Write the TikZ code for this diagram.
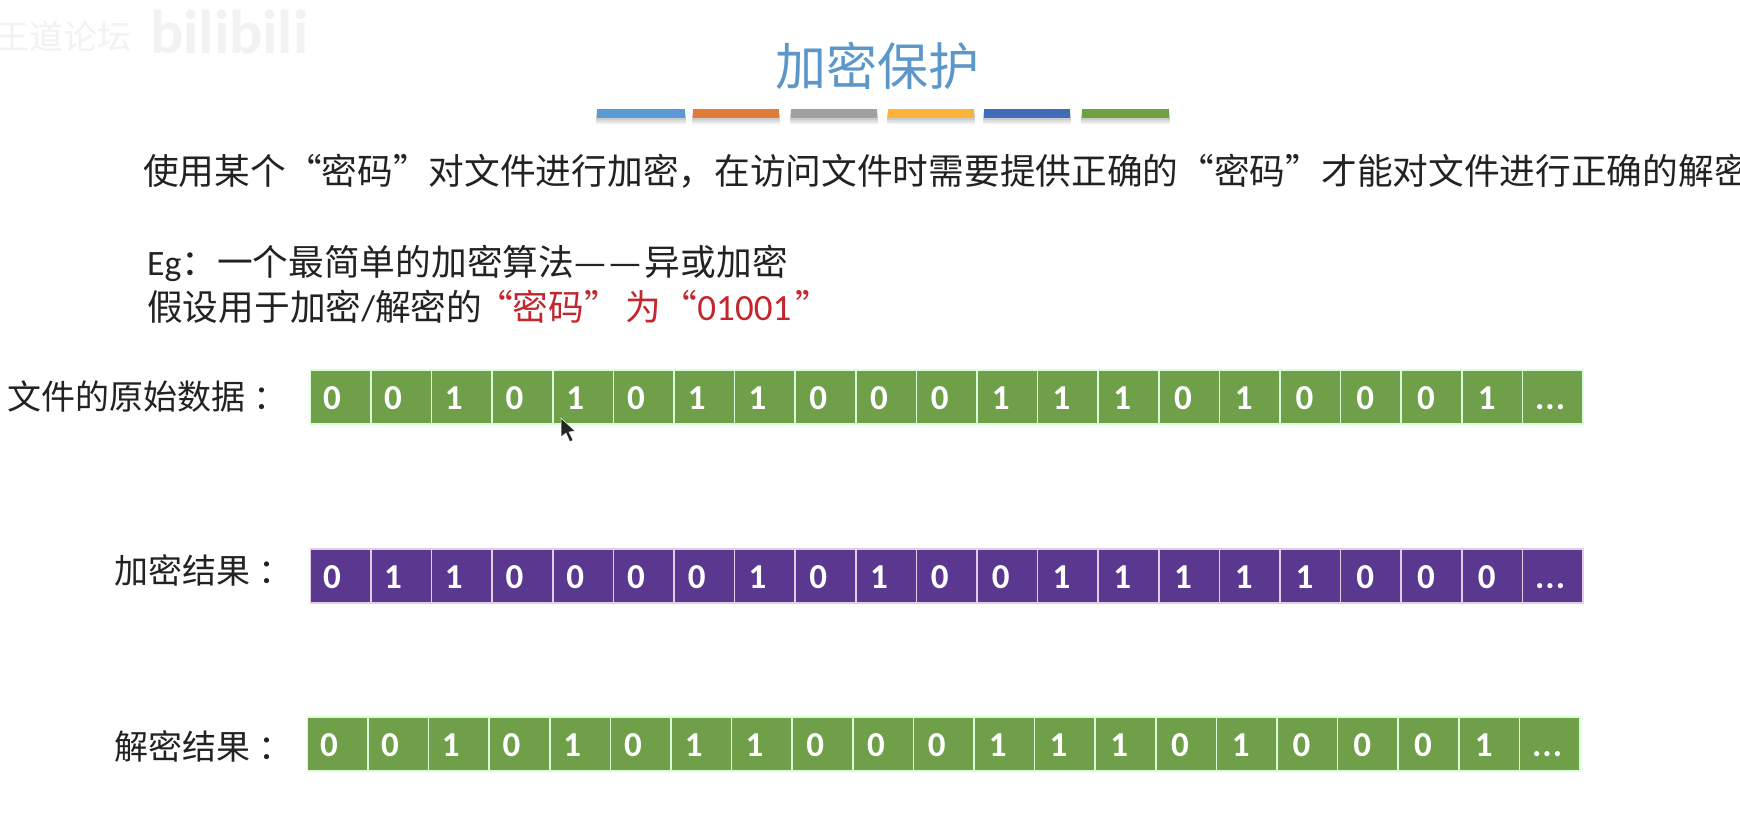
\documentclass[tikz,border=0pt]{standalone}
\usepackage{fontspec}
\setmainfont{Carlito}
\newfontfamily\cjk{Noto Sans CJK SC}
\definecolor{titleblue}{HTML}{5B97C9}
\definecolor{cellgreen}{HTML}{709F4A}
\definecolor{cellpurple}{HTML}{5B388F}
\definecolor{alertred}{HTML}{C4262E}
\definecolor{inktext}{HTML}{222222}
\tikzset{
  x=1pt,y=-1pt,
  txt/.style={inner sep=0pt,anchor=west,text=inktext,font=\cjk\fontsize{35.7}{36}\selectfont},
  lbl/.style={inner sep=0pt,anchor=west,text=inktext,font=\cjk\fontsize{34}{36}\selectfont},
  cellg/.style={rectangle,fill=cellgreen,draw=green!15!white,line width=1.6pt,minimum width=60.6pt,minimum height=54pt,inner sep=0pt},
  cellp/.style={cellg,fill=cellpurple,draw=violet!20!white},
  digit/.style={inner sep=0pt,text=white,font=\bfseries\fontsize{35}{36}\selectfont},
  barshadow/.style={fill=black,fill opacity=0.07},
}
\newcommand{\lowdots}{\vphantom{0}.\kern1pt.\kern1pt.}
\begin{document}
\begin{tikzpicture}
\useasboundingbox (0,0) rectangle (1740,831);
\clip (0,0) rectangle (1740,831);
\fill[white] (0,0) rectangle (1740,831);
% faint watermark
\node[inner sep=0pt,anchor=east,text=black!5,font=\cjk\fontsize{34}{36}\selectfont] (wm1) at (132,36) {王道论坛};
\node[inner sep=0pt,anchor=west,text=black!5,font=\bfseries\fontsize{62}{62}\selectfont] (wm2) at (150,32) {bilibili};
% title
\node[inner sep=0pt,text=titleblue,font=\cjk\fontsize{51}{52}\selectfont] (title) at (877,66) {加密保护};
% bars
\foreach \xa/\xb/\c [count=\n] in {597/685/5B9BD5,693/779/E07B39,791/877/A0A0A0,888/974/FBB437,984/1070/3F6DB8,1082/1169/6FA044}{
  \definecolor{barc}{HTML}{\c}
  \foreach \o in {2,4,6}{\fill[barshadow] (\xa-1,109+\o) rectangle (\xb+1,118+\o);}
  \fill[barc] (\xa,109) rectangle (\xb,118);
}
% text
\node[txt] (l1) at (143,171) {使用某个“密码”对文件进行加密，在访问文件时需要提供正确的“密码”才能对文件进行正确的解密};
\node[txt] (l2) at (147,263) {{\rmfamily Eg}：一个最简单的加密算法—\kern3.5pt—\kern3.5pt 异或加密};
\node[txt] (l3) at (147,307) {假设用于加密{\rmfamily /}解密的\kern-5pt\textcolor{alertred}{“密码”\kern5pt 为\kern1pt“{\rmfamily\fontsize{37}{36}\selectfont 01001}\kern4pt”}};
% row labels
\node[lbl] (r1) at (7,397) {文件的原始数据\kern8pt：};
\node[lbl] (r2) at (114,570) {加密结果\kern8pt：};
\node[lbl] (r3) at (114,746) {解密结果\kern8pt：};
% rows
\foreach \d [count=\i from 0] in {0,0,1,0,1,0,1,1,0,0,0,1,1,1,0,1,0,0,0,1}{
  \node[cellg] (a\i) at ({310.3+60.6*(\i+0.5)},397) {};
  \node[digit] (da\i) at ([xshift={-8.5+3.3*\i/19},yshift=-1]a\i.center) {\d};
}
\node[cellg] (a20) at ({310.3+60.6*20.5},397) {};
\node[digit] (da20) at ([xshift=-2.5,yshift=-1]a20.center) {\lowdots};
\foreach \d [count=\i from 0] in {0,1,1,0,0,0,0,1,0,1,0,0,1,1,1,1,1,0,0,0}{
  \node[cellp] (b\i) at ({310.3+60.6*(\i+0.5)},576) {};
  \node[digit] (db\i) at ([xshift={-8.5+3.3*\i/19},yshift=-1]b\i.center) {\d};
}
\node[cellp] (b20) at ({310.3+60.6*20.5},576) {};
\node[digit] (db20) at ([xshift=-2.5,yshift=-1]b20.center) {\lowdots};
\foreach \d [count=\i from 0] in {0,0,1,0,1,0,1,1,0,0,0,1,1,1,0,1,0,0,0,1}{
  \node[cellg] (c\i) at ({307.3+60.6*(\i+0.5)},744) {};
  \node[digit] (dc\i) at ([xshift={-8.5+3.3*\i/19},yshift=-1]c\i.center) {\d};
}
\node[cellg] (c20) at ({307.3+60.6*20.5},744) {};
\node[digit] (dc20) at ([xshift=-2.5,yshift=-1]c20.center) {\lowdots};
% mouse cursor
\fill[black!85,draw=white,line width=0.5pt] (561,418) -- (561,437) -- (566,433) -- (570,442) -- (573,440) -- (569,432) -- (575,431) -- cycle;
\end{tikzpicture}
\end{document}
